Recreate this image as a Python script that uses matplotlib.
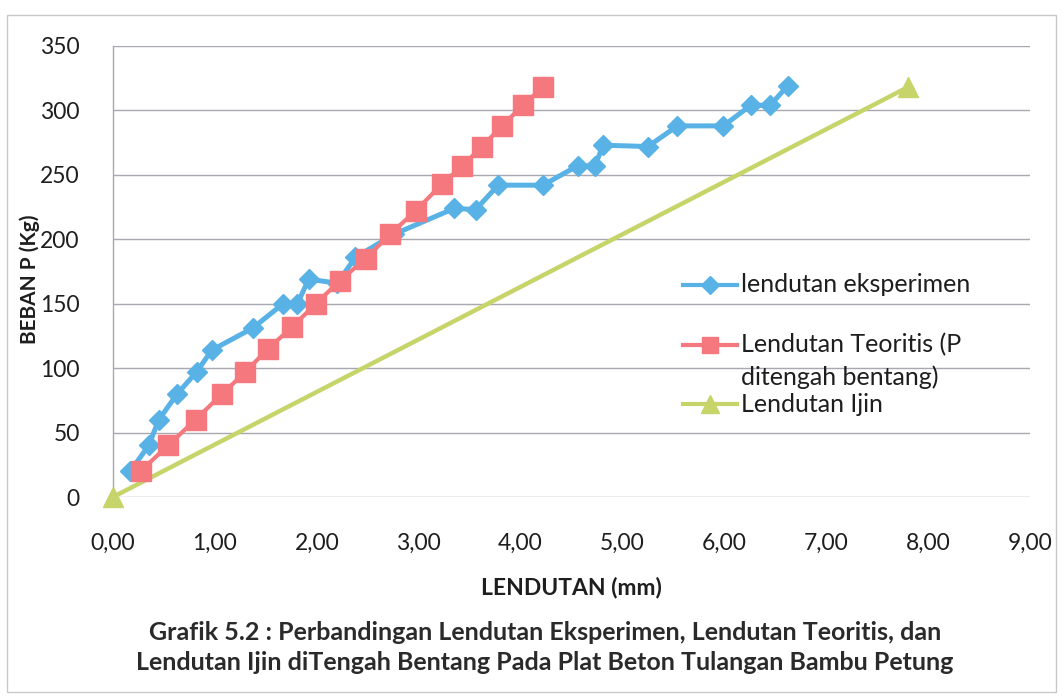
import matplotlib
matplotlib.use("Agg")
import matplotlib.pyplot as plt
from matplotlib.lines import Line2D
from matplotlib.patches import Rectangle
from matplotlib.ticker import FixedLocator

plt.rcParams['font.family'] = ['Lato', 'DejaVu Sans']

# Experimental deflection (mm) vs load (kg)
exp_defl = [0.17, 0.35, 0.45, 0.63, 0.82, 0.97, 1.37, 1.67, 1.81, 1.92, 2.20,
            2.38, 2.76, 3.35, 3.56, 3.78, 4.22, 4.56, 4.73, 4.81, 5.25, 5.54,
            5.99, 6.26, 6.45, 6.62]
exp_load = [20, 40, 60, 80, 97, 114, 131, 150, 150, 169, 166,
            186, 204, 224, 223, 242, 242, 257, 257, 273, 272, 288,
            288, 304, 304, 319]

# Theoretical deflection, load at mid-span
teo_defl = [0.27, 0.54, 0.81, 1.07, 1.30, 1.52, 1.76, 1.99, 2.23, 2.48, 2.72,
            2.97, 3.23, 3.43, 3.62, 3.82, 4.02, 4.22]
teo_load = [20, 40, 60, 80, 97, 115, 132, 150, 168, 185, 204,
            222, 243, 257, 272, 288, 304, 318]

# Allowable deflection
ijin_defl = [0.0, 7.80]
ijin_load = [0, 318]

x_ticks = [0, 1, 2, 3, 4, 5, 6, 7, 8, 9]
x_tick_labels = ["0,00", "1,00", "2,00", "3,00", "4,00", "5,00", "6,00",
                 "7,00", "8,00", "9,00"]
y_ticks = [0, 50, 100, 150, 200, 250, 300, 350]

series_labels = ["lendutan eksperimen",
                 "Lendutan Teoritis (P\nditengah bentang)",
                 "Lendutan Ijin"]

c_blue = "#58b2e6"
c_red = "#f4787e"
c_green = "#c6d46a"
c_grid = "#a8a8b0"
c_text = "#1e1e1e"

W, H = 1063, 699
fig = plt.figure(figsize=(W / 100, H / 100), dpi=100)
fig.patch.set_facecolor("white")

def fx(px):
    return px / W

def fy(py):
    return 1 - py / H

ax = fig.add_axes([fx(113), fy(497), fx(1030) - fx(113), fy(46) - fy(497)])
ax.set_xlim(0, 9)
ax.set_ylim(0, 350)

for s in ["top", "right", "bottom"]:
    ax.spines[s].set_visible(False)
ax.spines["left"].set_color(c_grid)
ax.spines["left"].set_linewidth(1.0)

ax.yaxis.set_major_locator(FixedLocator(y_ticks))
ax.xaxis.set_major_locator(FixedLocator(x_ticks))
ax.set_xticklabels(x_tick_labels)
ax.grid(axis="y", color=c_grid, linewidth=1.0)
ax.set_axisbelow(True)
ax.tick_params(axis="both", length=0, labelsize=16.5, colors=c_text)
ax.tick_params(axis="y", pad=24)
ax.tick_params(axis="x", pad=26)

ax.plot(ijin_defl, ijin_load, color=c_green, lw=3.2, marker="^", ms=15,
        clip_on=False, zorder=3)
ax.plot(exp_defl, exp_load, color=c_blue, lw=3.6, marker="D", ms=10.5,
        clip_on=False, zorder=4)
ax.plot(teo_defl, teo_load, color=c_red, lw=3.0, marker="s", ms=14,
        clip_on=False, zorder=5)

fig.text(fx(30), fy(279), "BEBAN P (Kg)", rotation=90, ha="center",
         va="center", fontsize=15, fontweight="bold", color=c_text)
fig.text(fx(571), fy(588), "LENDUTAN (mm)", ha="center", va="center",
         fontsize=16.5, fontweight="bold", color=c_text)

fig.text(fx(545), fy(633),
         "Grafik 5.2 : Perbandingan Lendutan Eksperimen, Lendutan Teoritis, dan",
         ha="center", va="center", fontsize=18, fontweight="bold", color="#2a2a2a")
fig.text(fx(545), fy(663),
         "Lendutan Ijin diTengah Bentang Pada Plat Beton Tulangan Bambu Petung",
         ha="center", va="center", fontsize=18, fontweight="bold", color="#2a2a2a")

# Legend entries
legend_rows = [(285, c_blue, "D", 9, 3.0, series_labels[0]),
               (345, c_red, "s", 12, 3.0, series_labels[1]),
               (404, c_green, "^", 13, 3.0, series_labels[2])]
for py, col, mk, ms, lw, lab in legend_rows:
    fig.add_artist(Line2D([fx(683), fx(710), fx(737)], [fy(py)] * 3,
                          color=col, lw=lw, marker=mk, ms=ms, markevery=[1]))
    first, *rest = lab.split("\n")
    fig.text(fx(741), fy(py), first, ha="left", va="center",
             fontsize=18, color=c_text)
    for i, ln in enumerate(rest, start=1):
        fig.text(fx(741), fy(py + 32 * i), ln, ha="left", va="center",
                 fontsize=18, color=c_text)

# Chart area frame
fig.add_artist(Rectangle((fx(7), fy(692)), fx(1056) - fx(7), fy(15) - fy(692),
                         fill=False, edgecolor="#c8c8c8", lw=1.0))

fig.savefig("out.png", dpi=100, facecolor="white")
